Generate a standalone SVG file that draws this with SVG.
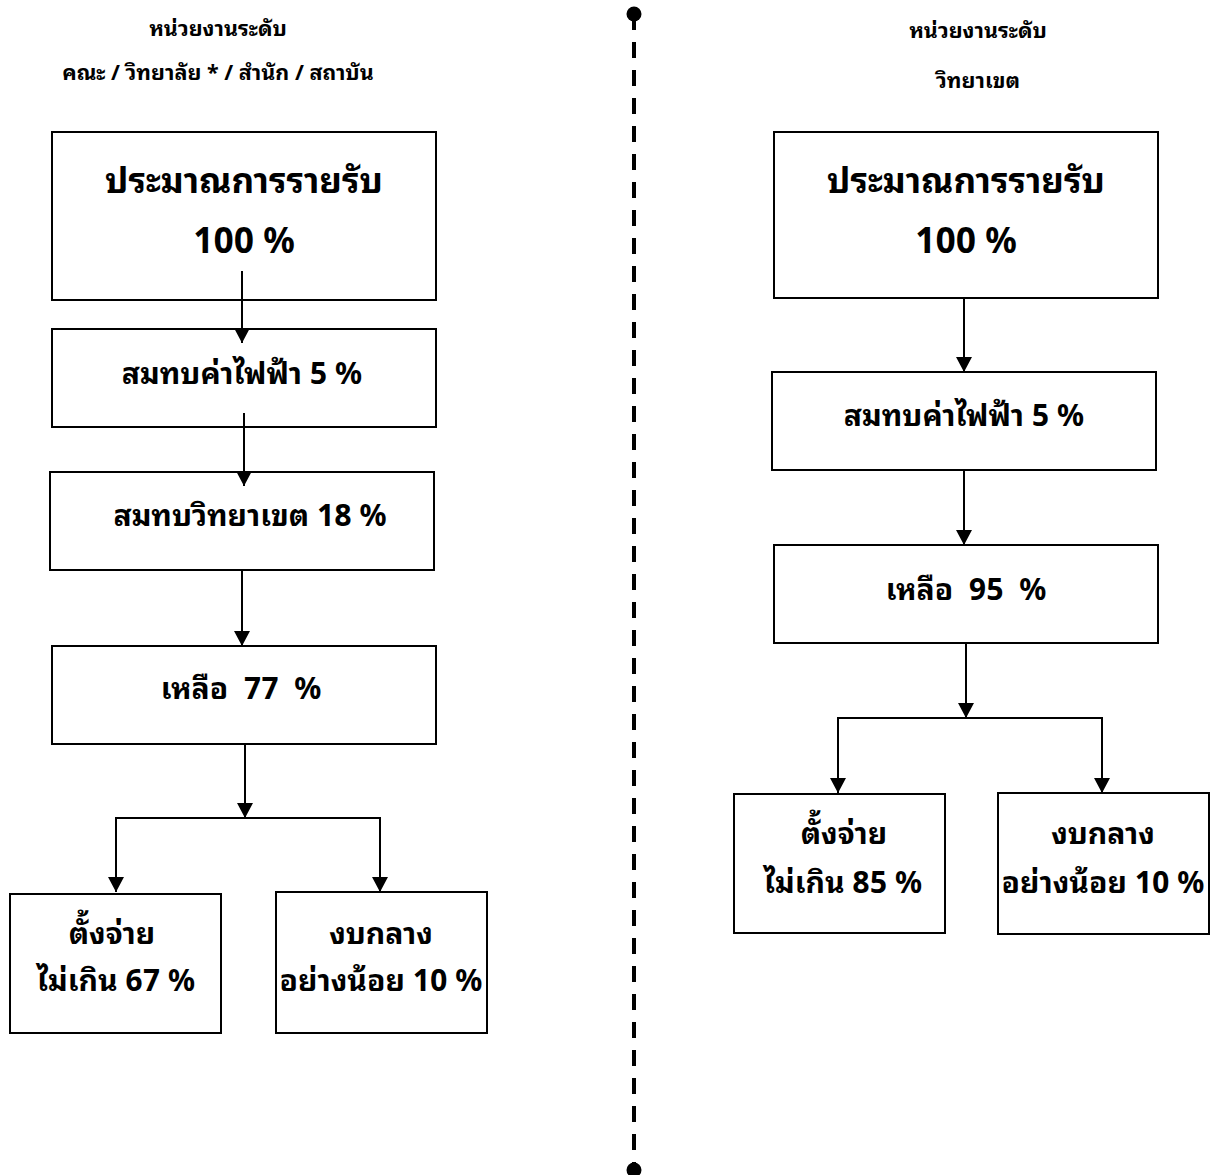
<svg xmlns="http://www.w3.org/2000/svg" width="1211" height="1175" viewBox="0 0 1211 1175">
<defs>
<marker id="arr" markerWidth="15" markerHeight="16" refX="15" refY="8" orient="auto" markerUnits="userSpaceOnUse" viewBox="0 0 15 16">
<path d="M0,0 L15,8 L0,16 Z" fill="#000"/>
</marker>
<style>
text{font-family:"Noto Sans Thai Looped","Tahoma","Noto Sans","DejaVu Sans",sans-serif;font-weight:bold;fill:#000;text-anchor:middle;dominant-baseline:central;white-space:pre}
.h{font-size:21.5px}
.big{font-size:35px}
.md{font-size:30px}
.box{fill:#fff;stroke:#000;stroke-width:2}
.ln{fill:none;stroke:#000;stroke-width:2}
.dash{fill:none;stroke:#000;stroke-width:4;stroke-dasharray:16 12}
</style>
</defs>
<rect width="1211" height="1175" fill="#fff"/>
<g id="headers">
<text class="h" x="218" y="26">หน่วยงานระดับ</text>
<text class="h" x="218" y="70">คณะ / วิทยาลัย * / สำนัก / สถาบัน</text>
<text class="h" x="978" y="28">หน่วยงานระดับ</text>
<text class="h" x="978" y="78">วิทยาเขต</text>
</g>
<g id="divider">
<line class="dash" x1="634" y1="14" x2="634" y2="1170"/>
<circle cx="634" cy="14" r="7.5" fill="#000"/>
<circle cx="634" cy="1170" r="7.5" fill="#000"/>
</g>
<g id="L1"><rect class="box" x="52" y="132" width="384" height="168"/>
<text class="big" x="244" y="177">ประมาณการรายรับ</text>
<text class="big" x="244" y="237">100 %</text></g>
<g id="L2"><rect class="box" x="52" y="329" width="384" height="98"/>
<text class="md" x="242" y="370">สมทบค่าไฟฟ้า 5 %</text></g>
<g id="L3"><rect class="box" x="50" y="472" width="384" height="98"/>
<text class="md" x="250" y="512">สมทบวิทยาเขต 18 %</text></g>
<g id="L4"><rect class="box" x="52" y="646" width="384" height="98"/>
<text class="md" x="241" y="685" xml:space="preserve">เหลือ  77  %</text></g>
<g id="L5"><rect class="box" x="10" y="894" width="211" height="139"/>
<text class="md" x="112" y="930">ตั้งจ่าย</text>
<text class="md" x="116" y="977">ไม่เกิน 67 %</text></g>
<g id="L6"><rect class="box" x="276" y="892" width="211" height="141"/>
<text class="md" x="381" y="930">งบกลาง</text>
<text class="md" x="381" y="977">อย่างน้อย 10 %</text></g>
<g id="R1"><rect class="box" x="774" y="132" width="384" height="166"/>
<text class="big" x="966" y="177">ประมาณการรายรับ</text>
<text class="big" x="966" y="237">100 %</text></g>
<g id="R2"><rect class="box" x="772" y="372" width="384" height="98"/>
<text class="md" x="964" y="412">สมทบค่าไฟฟ้า 5 %</text></g>
<g id="R3"><rect class="box" x="774" y="545" width="384" height="98"/>
<text class="md" x="966" y="586" xml:space="preserve">เหลือ  95  %</text></g>
<g id="R4"><rect class="box" x="734" y="794" width="211" height="139"/>
<text class="md" x="844" y="830">ตั้งจ่าย</text>
<text class="md" x="843" y="879">ไม่เกิน 85 %</text></g>
<g id="R5"><rect class="box" x="998" y="793" width="211" height="141"/>
<text class="md" x="1103" y="830">งบกลาง</text>
<text class="md" x="1103" y="879">อย่างน้อย 10 %</text></g>
<g id="connectors">
<line class="ln" x1="242" y1="271" x2="242" y2="343" marker-end="url(#arr)"/>
<line class="ln" x1="244" y1="413" x2="244" y2="486" marker-end="url(#arr)"/>
<line class="ln" x1="242" y1="570" x2="242" y2="646" marker-end="url(#arr)"/>
<line class="ln" x1="245" y1="744" x2="245" y2="818" marker-end="url(#arr)"/>
<polyline class="ln" points="116,830 116,818 380,818 380,830"/>
<line class="ln" x1="116" y1="818" x2="116" y2="892" marker-end="url(#arr)"/>
<line class="ln" x1="380" y1="818" x2="380" y2="892" marker-end="url(#arr)"/>
<line class="ln" x1="964" y1="298" x2="964" y2="372" marker-end="url(#arr)"/>
<line class="ln" x1="964" y1="470" x2="964" y2="545" marker-end="url(#arr)"/>
<line class="ln" x1="966" y1="643" x2="966" y2="718" marker-end="url(#arr)"/>
<polyline class="ln" points="838,730 838,718 1102,718 1102,730"/>
<line class="ln" x1="838" y1="718" x2="838" y2="793" marker-end="url(#arr)"/>
<line class="ln" x1="1102" y1="718" x2="1102" y2="793" marker-end="url(#arr)"/>
</g>
</svg>
